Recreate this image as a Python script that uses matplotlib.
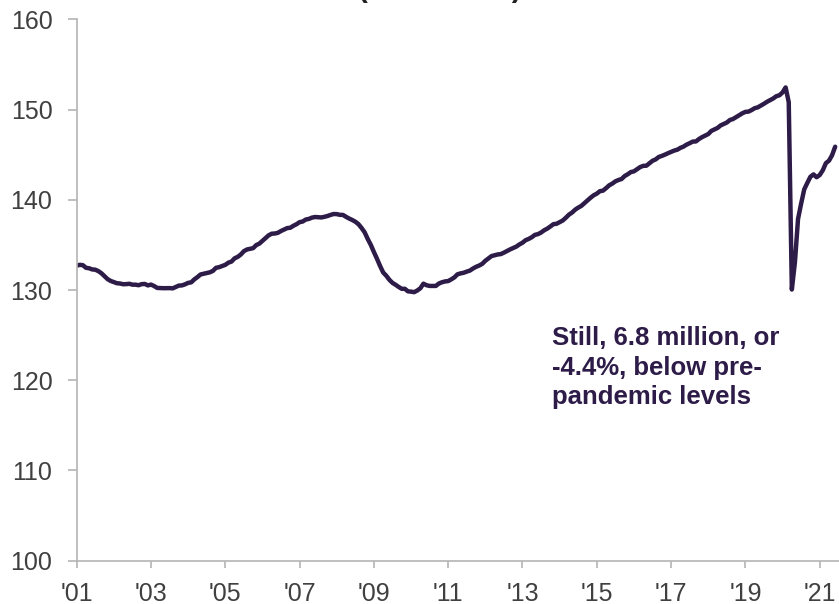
import matplotlib
matplotlib.use("Agg")
import matplotlib.pyplot as plt
import numpy as np

# Nonfarm payrolls, millions, monthly Jan 2001 - Jun 2021
y2001 = [132.70, 132.79, 132.75, 132.46, 132.41, 132.28, 132.25, 132.09, 131.85, 131.52, 131.20, 131.00]
y2002 = [130.87, 130.75, 130.72, 130.64, 130.65, 130.69, 130.59, 130.59, 130.53, 130.65, 130.67, 130.51]
y2003 = [130.60, 130.44, 130.23, 130.21, 130.20, 130.21, 130.21, 130.18, 130.33, 130.49, 130.51, 130.63]
y2004 = [130.79, 130.85, 131.18, 131.43, 131.72, 131.80, 131.87, 131.96, 132.12, 132.46, 132.53, 132.66]
y2005 = [132.79, 133.03, 133.15, 133.51, 133.67, 133.93, 134.30, 134.49, 134.56, 134.64, 134.98, 135.14]
y2006 = [135.45, 135.77, 136.06, 136.24, 136.26, 136.34, 136.54, 136.70, 136.86, 136.90, 137.12, 137.29]
y2007 = [137.52, 137.59, 137.81, 137.88, 138.02, 138.09, 138.06, 138.04, 138.11, 138.20, 138.32, 138.42]
y2008 = [138.41, 138.33, 138.32, 138.11, 137.92, 137.76, 137.57, 137.30, 136.88, 136.40, 135.66, 135.00]
y2009 = [134.21, 133.46, 132.66, 131.94, 131.58, 131.13, 130.79, 130.58, 130.34, 130.13, 130.13, 129.85]
y2010 = [129.82, 129.76, 129.94, 130.19, 130.70, 130.53, 130.45, 130.45, 130.45, 130.72, 130.86, 130.95]
y2011 = [130.99, 131.18, 131.40, 131.74, 131.84, 131.91, 132.04, 132.15, 132.38, 132.57, 132.71, 132.90]
y2012 = [133.24, 133.50, 133.76, 133.85, 133.94, 133.98, 134.14, 134.32, 134.50, 134.66, 134.81, 135.05]
y2013 = [135.24, 135.52, 135.66, 135.85, 136.11, 136.19, 136.37, 136.62, 136.80, 137.04, 137.30, 137.34]
y2014 = [137.52, 137.70, 138.01, 138.35, 138.58, 138.90, 139.13, 139.32, 139.63, 139.93, 140.23, 140.50]
y2015 = [140.68, 140.95, 141.01, 141.29, 141.60, 141.79, 142.04, 142.19, 142.30, 142.63, 142.83, 143.07]
y2016 = [143.15, 143.39, 143.62, 143.76, 143.77, 144.05, 144.32, 144.47, 144.74, 144.86, 145.00, 145.16]
y2017 = [145.30, 145.45, 145.55, 145.75, 145.89, 146.11, 146.27, 146.45, 146.46, 146.73, 146.94, 147.11]
y2018 = [147.28, 147.63, 147.79, 147.96, 148.24, 148.40, 148.56, 148.84, 148.95, 149.16, 149.36, 149.58]
y2019 = [149.74, 149.77, 149.94, 150.15, 150.24, 150.44, 150.64, 150.86, 151.05, 151.23, 151.48, 151.58]
y2020 = [151.90, 152.45, 150.81, 130.05, 133.09, 137.87, 139.57, 141.15, 141.87, 142.55, 142.81, 142.50]
y2021 = [142.74, 143.27, 144.06, 144.33, 144.94, 145.88]

payrolls = (y2001 + y2002 + y2003 + y2004 + y2005 + y2006 + y2007 + y2008 + y2009 + y2010 +
            y2011 + y2012 + y2013 + y2014 + y2015 + y2016 + y2017 + y2018 + y2019 + y2020 + y2021)
start_year = 2001
x_tick_years = [2001, 2003, 2005, 2007, 2009, 2011, 2013, 2015, 2017, 2019, 2021]
x_tick_labels = ["'01", "'03", "'05", "'07", "'09", "'11", "'13", "'15", "'17", "'19", "'21"]
y_ticks = [100, 110, 120, 130, 140, 150, 160]
title_text = "(in millions)"
note_text = "Still, 6.8 million, or\n-4.4%, below pre-\npandemic levels"

line_color = "#2d1b48"
grey = "#b4b4b4"
label_color = "#404040"

plt.rcParams['font.family'] = ['Liberation Sans', 'DejaVu Sans']

fig = plt.figure(figsize=(8.39, 6.04), dpi=100)
ax = fig.add_axes([76.7 / 839, (604 - 560.7) / 604, 1 - 76.7 / 839, (560.7 - 19.3) / 604])

x = start_year + np.arange(len(payrolls)) / 12.0
ax.plot(x, payrolls, color=line_color, lw=3.2, solid_joinstyle='round', solid_capstyle='round')

ax.set_ylim(100, 160)
ax.set_xlim(2001, 2001 + (839 - 76.7) / 37.15)
ax.set_yticks(y_ticks)
ax.set_xticks(x_tick_years)
ax.set_xticklabels(x_tick_labels)

for s in ['top', 'right']:
    ax.spines[s].set_visible(False)
for s in ['left', 'bottom']:
    ax.spines[s].set_color(grey)
    ax.spines[s].set_linewidth(1.2)

ax.tick_params(axis='y', direction='out', length=6.5, width=1.2, color=grey,
               labelsize=18, labelcolor=label_color, pad=11)
ax.tick_params(axis='x', direction='out', length=5, width=1.2, color=grey,
               labelsize=18, labelcolor=label_color, pad=10)

fig.text(551.7 / 839, 1 - 404 / 604, note_text,
         fontsize=18.5, fontweight='bold', color=line_color, ha='left', va='baseline',
         linespacing=1.28)

fig.text(440 / 839, 1 + 3 / 604, title_text, ha='center', va='baseline',
         fontsize=21, fontweight='bold', color='#222222')

fig.savefig("out.png", dpi=100)
